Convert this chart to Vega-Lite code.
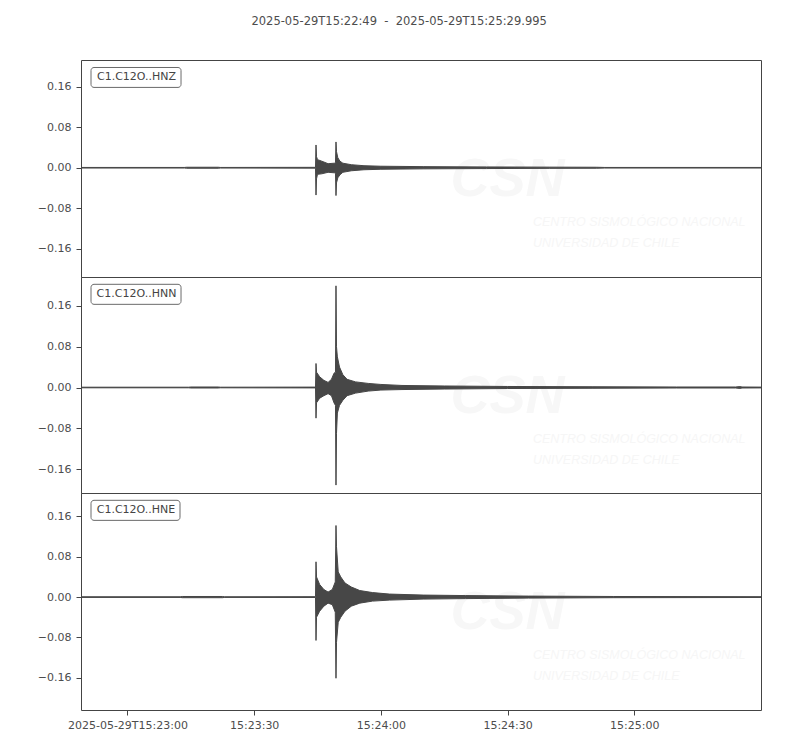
{
  "$schema": "https://vega.github.io/schema/vega-lite/v6.json",
  "background": "white",
  "padding": {"left": 36, "top": 16, "right": 40, "bottom": 5},
  "title": {"text": "2025-05-29T15:22:49\u00a0\u00a0-\u00a0\u00a02025-05-29T15:25:29.995", "font": "DejaVu Sans", "fontSize": 11.5, "fontWeight": "normal", "color": "#4d4d4d", "anchor": "middle", "frame": "bounds", "offset": 32},
  "spacing": 0,
  "bounds": "flush",
  "datasets": {
    "hnz": [
      {"t": "2025-05-29T15:22:49.000", "hi": 0.0006, "lo": -0.0006},
      {"t": "2025-05-29T15:23:13.500", "hi": 0.0006, "lo": -0.0006},
      {"t": "2025-05-29T15:23:14.000", "hi": 0.001, "lo": -0.001},
      {"t": "2025-05-29T15:23:21.500", "hi": 0.001, "lo": -0.001},
      {"t": "2025-05-29T15:23:22.000", "hi": 0.0006, "lo": -0.0006},
      {"t": "2025-05-29T15:23:44.400", "hi": 0.0008, "lo": -0.0008},
      {"t": "2025-05-29T15:23:44.520", "hi": 0.001, "lo": -0.001},
      {"t": "2025-05-29T15:23:44.640", "hi": 0.045, "lo": -0.054},
      {"t": "2025-05-29T15:23:44.760", "hi": 0.022, "lo": -0.022},
      {"t": "2025-05-29T15:23:45.000", "hi": 0.016, "lo": -0.013},
      {"t": "2025-05-29T15:23:46.000", "hi": 0.013, "lo": -0.012},
      {"t": "2025-05-29T15:23:47.500", "hi": 0.008, "lo": -0.009},
      {"t": "2025-05-29T15:23:49.000", "hi": 0.009, "lo": -0.01},
      {"t": "2025-05-29T15:23:49.250", "hi": 0.01, "lo": -0.011},
      {"t": "2025-05-29T15:23:49.370", "hi": 0.051, "lo": -0.055},
      {"t": "2025-05-29T15:23:49.490", "hi": 0.032, "lo": -0.03},
      {"t": "2025-05-29T15:23:49.800", "hi": 0.02, "lo": -0.02},
      {"t": "2025-05-29T15:23:50.300", "hi": 0.013, "lo": -0.014},
      {"t": "2025-05-29T15:23:51.000", "hi": 0.009, "lo": -0.009},
      {"t": "2025-05-29T15:23:53.000", "hi": 0.006, "lo": -0.006},
      {"t": "2025-05-29T15:23:56.000", "hi": 0.004, "lo": -0.004},
      {"t": "2025-05-29T15:24:00.000", "hi": 0.003, "lo": -0.003},
      {"t": "2025-05-29T15:24:10.000", "hi": 0.0022, "lo": -0.0022},
      {"t": "2025-05-29T15:24:25.000", "hi": 0.0016, "lo": -0.0016},
      {"t": "2025-05-29T15:24:40.000", "hi": 0.0012, "lo": -0.0012},
      {"t": "2025-05-29T15:24:51.000", "hi": 0.001, "lo": -0.001},
      {"t": "2025-05-29T15:24:53.000", "hi": 0.0006, "lo": -0.0006},
      {"t": "2025-05-29T15:25:29.995", "hi": 0.0006, "lo": -0.0006}
    ],
    "hnn": [
      {"t": "2025-05-29T15:22:49.000", "hi": 0.0006, "lo": -0.0006},
      {"t": "2025-05-29T15:23:14.500", "hi": 0.0006, "lo": -0.0006},
      {"t": "2025-05-29T15:23:15.000", "hi": 0.001, "lo": -0.001},
      {"t": "2025-05-29T15:23:21.500", "hi": 0.001, "lo": -0.001},
      {"t": "2025-05-29T15:23:22.000", "hi": 0.0006, "lo": -0.0006},
      {"t": "2025-05-29T15:23:44.400", "hi": 0.0008, "lo": -0.0008},
      {"t": "2025-05-29T15:23:44.520", "hi": 0.001, "lo": -0.001},
      {"t": "2025-05-29T15:23:44.640", "hi": 0.047, "lo": -0.06},
      {"t": "2025-05-29T15:23:44.760", "hi": 0.03, "lo": -0.03},
      {"t": "2025-05-29T15:23:45.500", "hi": 0.021, "lo": -0.021},
      {"t": "2025-05-29T15:23:46.500", "hi": 0.014, "lo": -0.016},
      {"t": "2025-05-29T15:23:47.500", "hi": 0.01, "lo": -0.012},
      {"t": "2025-05-29T15:23:48.300", "hi": 0.016, "lo": -0.016},
      {"t": "2025-05-29T15:23:48.900", "hi": 0.028, "lo": -0.03},
      {"t": "2025-05-29T15:23:49.250", "hi": 0.03, "lo": -0.035},
      {"t": "2025-05-29T15:23:49.370", "hi": 0.199, "lo": -0.191},
      {"t": "2025-05-29T15:23:49.490", "hi": 0.08, "lo": -0.09},
      {"t": "2025-05-29T15:23:49.700", "hi": 0.06, "lo": -0.05},
      {"t": "2025-05-29T15:23:50.200", "hi": 0.04, "lo": -0.035},
      {"t": "2025-05-29T15:23:51.000", "hi": 0.025, "lo": -0.025},
      {"t": "2025-05-29T15:23:52.000", "hi": 0.016, "lo": -0.016},
      {"t": "2025-05-29T15:23:54.000", "hi": 0.011, "lo": -0.011},
      {"t": "2025-05-29T15:23:57.000", "hi": 0.008, "lo": -0.007},
      {"t": "2025-05-29T15:24:00.000", "hi": 0.006, "lo": -0.005},
      {"t": "2025-05-29T15:24:05.000", "hi": 0.004, "lo": -0.004},
      {"t": "2025-05-29T15:24:15.000", "hi": 0.003, "lo": -0.003},
      {"t": "2025-05-29T15:24:30.000", "hi": 0.002, "lo": -0.002},
      {"t": "2025-05-29T15:24:50.000", "hi": 0.0015, "lo": -0.0015},
      {"t": "2025-05-29T15:25:10.000", "hi": 0.001, "lo": -0.001},
      {"t": "2025-05-29T15:25:24.000", "hi": 0.001, "lo": -0.001},
      {"t": "2025-05-29T15:25:25.000", "hi": 0.0018, "lo": -0.0018},
      {"t": "2025-05-29T15:25:25.500", "hi": 0.001, "lo": -0.001},
      {"t": "2025-05-29T15:25:29.995", "hi": 0.0008, "lo": -0.0008}
    ],
    "hne": [
      {"t": "2025-05-29T15:22:49.000", "hi": 0.0006, "lo": -0.0006},
      {"t": "2025-05-29T15:23:12.500", "hi": 0.0006, "lo": -0.0006},
      {"t": "2025-05-29T15:23:13.000", "hi": 0.0012, "lo": -0.0012},
      {"t": "2025-05-29T15:23:22.500", "hi": 0.0012, "lo": -0.0012},
      {"t": "2025-05-29T15:23:23.000", "hi": 0.0006, "lo": -0.0006},
      {"t": "2025-05-29T15:23:44.400", "hi": 0.0008, "lo": -0.0008},
      {"t": "2025-05-29T15:23:44.520", "hi": 0.001, "lo": -0.001},
      {"t": "2025-05-29T15:23:44.640", "hi": 0.07, "lo": -0.086},
      {"t": "2025-05-29T15:23:44.760", "hi": 0.04, "lo": -0.04},
      {"t": "2025-05-29T15:23:45.500", "hi": 0.025, "lo": -0.028},
      {"t": "2025-05-29T15:23:46.500", "hi": 0.015, "lo": -0.018},
      {"t": "2025-05-29T15:23:47.500", "hi": 0.01, "lo": -0.012},
      {"t": "2025-05-29T15:23:48.500", "hi": 0.015, "lo": -0.015},
      {"t": "2025-05-29T15:23:49.200", "hi": 0.03, "lo": -0.03},
      {"t": "2025-05-29T15:23:49.370", "hi": 0.142, "lo": -0.161},
      {"t": "2025-05-29T15:23:49.490", "hi": 0.1, "lo": -0.09},
      {"t": "2025-05-29T15:23:49.900", "hi": 0.05, "lo": -0.05},
      {"t": "2025-05-29T15:23:50.500", "hi": 0.04, "lo": -0.04},
      {"t": "2025-05-29T15:23:51.500", "hi": 0.028, "lo": -0.028},
      {"t": "2025-05-29T15:23:53.000", "hi": 0.02, "lo": -0.018},
      {"t": "2025-05-29T15:23:55.000", "hi": 0.013, "lo": -0.012},
      {"t": "2025-05-29T15:23:58.000", "hi": 0.009, "lo": -0.008},
      {"t": "2025-05-29T15:24:02.000", "hi": 0.006, "lo": -0.006},
      {"t": "2025-05-29T15:24:10.000", "hi": 0.004, "lo": -0.004},
      {"t": "2025-05-29T15:24:20.000", "hi": 0.003, "lo": -0.003},
      {"t": "2025-05-29T15:24:35.000", "hi": 0.002, "lo": -0.002},
      {"t": "2025-05-29T15:24:55.000", "hi": 0.0012, "lo": -0.0012},
      {"t": "2025-05-29T15:25:29.995", "hi": 0.0008, "lo": -0.0008}
    ],
    "labelbox": [
      {"ch": "HNZ", "t": "2025-05-29T15:22:51.370", "t1": "2025-05-29T15:23:12.680", "hi": 0.1982, "lo": 0.1588},
      {"ch": "HNN", "t": "2025-05-29T15:22:51.370", "t1": "2025-05-29T15:23:12.680", "hi": 0.202, "lo": 0.1628},
      {"ch": "HNE", "t": "2025-05-29T15:22:51.370", "t1": "2025-05-29T15:23:12.440", "hi": 0.192, "lo": 0.1522}
    ],
    "labeltext": [
      {"ch": "HNZ", "lab": "C1.C12O..HNZ", "t": "2025-05-29T15:23:02.140", "hi": 0.1785},
      {"ch": "HNN", "lab": "C1.C12O..HNN", "t": "2025-05-29T15:23:02.140", "hi": 0.1824},
      {"ch": "HNE", "lab": "C1.C12O..HNE", "t": "2025-05-29T15:23:02.020", "hi": 0.1721}
    ],
    "logo": [
      {"ch": "HNZ", "txt": "CSN", "t": "2025-05-29T15:24:30.000", "hi": -0.024},
      {"ch": "HNN", "txt": "CSN", "t": "2025-05-29T15:24:30.000", "hi": -0.019},
      {"ch": "HNE", "txt": "CSN", "t": "2025-05-29T15:24:30.000", "hi": -0.032}
    ],
    "logotext": [
      {"ch": "HNZ", "txt": "CENTRO SISMOLÓGICO NACIONAL", "t": "2025-05-29T15:24:36.000", "hi": -0.1065},
      {"ch": "HNZ", "txt": "UNIVERSIDAD DE CHILE", "t": "2025-05-29T15:24:36.000", "hi": -0.148},
      {"ch": "HNN", "txt": "CENTRO SISMOLÓGICO NACIONAL", "t": "2025-05-29T15:24:36.000", "hi": -0.101},
      {"ch": "HNN", "txt": "UNIVERSIDAD DE CHILE", "t": "2025-05-29T15:24:36.000", "hi": -0.1424},
      {"ch": "HNE", "txt": "CENTRO SISMOLÓGICO NACIONAL", "t": "2025-05-29T15:24:36.000", "hi": -0.1156},
      {"ch": "HNE", "txt": "UNIVERSIDAD DE CHILE", "t": "2025-05-29T15:24:36.000", "hi": -0.1573}
    ]
  },
  "vconcat": [
    {
      "width": 680, "height": 217,
      "encoding": {
        "x": {"field": "t", "type": "temporal", "axis": null, "scale": {"nice": false, "domain": [{"year": 2025, "month": 5, "date": 29, "hours": 15, "minutes": 22, "seconds": 49}, {"year": 2025, "month": 5, "date": 29, "hours": 15, "minutes": 25, "seconds": 29, "milliseconds": 995}]}},
        "y": {"field": "hi", "type": "quantitative", "scale": {"domain": [-0.216, 0.213], "nice": false, "zero": false}, "axis": {"values": [-0.16, -0.08, 0, 0.08, 0.16], "format": ".2f", "title": null, "grid": false, "domain": false, "tickSize": 5, "labelPadding": 5}}
      },
      "layer": [
        {
          "data": {"name": "logo"},
          "transform": [{"filter": "datum.ch === 'HNZ'"}],
          "mark": {"type": "text", "font": "Liberation Sans", "fontSize": 54, "fontWeight": "bold", "fontStyle": "italic", "color": "#f7f7f7", "align": "center", "baseline": "middle"},
          "encoding": {"text": {"field": "txt"}}
        },
        {
          "data": {"name": "logotext"},
          "transform": [{"filter": "datum.ch === 'HNZ'"}],
          "mark": {"type": "text", "font": "Liberation Sans", "fontSize": 12.5, "fontStyle": "italic", "color": "#f6f6f6", "align": "left", "baseline": "middle"},
          "encoding": {"text": {"field": "txt"}}
        },
        {
          "data": {"name": "hnz"},
          "mark": {"type": "area", "color": "#474747", "stroke": "#474747", "strokeWidth": 1, "clip": true},
          "encoding": {"y2": {"field": "lo"}}
        },
        {
          "data": {"name": "labelbox"},
          "transform": [{"filter": "datum.ch === 'HNZ'"}],
          "mark": {"type": "rect", "fill": "white", "stroke": "#6a6a6a", "strokeWidth": 1, "cornerRadius": 3},
          "encoding": {"x2": {"field": "t1"}, "y2": {"field": "lo"}}
        },
        {
          "data": {"name": "labeltext"},
          "transform": [{"filter": "datum.ch === 'HNZ'"}],
          "mark": {"type": "text", "font": "DejaVu Sans", "fontSize": 11, "color": "#444444", "align": "center", "baseline": "middle"},
          "encoding": {"text": {"field": "lab"}}
        }
      ]
    },
    {
      "width": 680, "height": 216,
      "encoding": {
        "x": {"field": "t", "type": "temporal", "axis": null, "scale": {"nice": false, "domain": [{"year": 2025, "month": 5, "date": 29, "hours": 15, "minutes": 22, "seconds": 49}, {"year": 2025, "month": 5, "date": 29, "hours": 15, "minutes": 25, "seconds": 29, "milliseconds": 995}]}},
        "y": {"field": "hi", "type": "quantitative", "scale": {"domain": [-0.2065, 0.2163], "nice": false, "zero": false}, "axis": {"values": [-0.16, -0.08, 0, 0.08, 0.16], "format": ".2f", "title": null, "grid": false, "domain": false, "tickSize": 5, "labelPadding": 5}}
      },
      "layer": [
        {
          "data": {"name": "logo"},
          "transform": [{"filter": "datum.ch === 'HNN'"}],
          "mark": {"type": "text", "font": "Liberation Sans", "fontSize": 54, "fontWeight": "bold", "fontStyle": "italic", "color": "#f7f7f7", "align": "center", "baseline": "middle"},
          "encoding": {"text": {"field": "txt"}}
        },
        {
          "data": {"name": "logotext"},
          "transform": [{"filter": "datum.ch === 'HNN'"}],
          "mark": {"type": "text", "font": "Liberation Sans", "fontSize": 12.5, "fontStyle": "italic", "color": "#f6f6f6", "align": "left", "baseline": "middle"},
          "encoding": {"text": {"field": "txt"}}
        },
        {
          "data": {"name": "hnn"},
          "mark": {"type": "area", "color": "#474747", "stroke": "#474747", "strokeWidth": 1, "clip": true},
          "encoding": {"y2": {"field": "lo"}}
        },
        {
          "data": {"name": "labelbox"},
          "transform": [{"filter": "datum.ch === 'HNN'"}],
          "mark": {"type": "rect", "fill": "white", "stroke": "#6a6a6a", "strokeWidth": 1, "cornerRadius": 3},
          "encoding": {"x2": {"field": "t1"}, "y2": {"field": "lo"}}
        },
        {
          "data": {"name": "labeltext"},
          "transform": [{"filter": "datum.ch === 'HNN'"}],
          "mark": {"type": "text", "font": "DejaVu Sans", "fontSize": 11, "color": "#444444", "align": "center", "baseline": "middle"},
          "encoding": {"text": {"field": "lab"}}
        }
      ]
    },
    {
      "width": 680, "height": 217,
      "encoding": {
        "x": {"field": "t", "type": "temporal", "scale": {"nice": false, "domain": [{"year": 2025, "month": 5, "date": 29, "hours": 15, "minutes": 22, "seconds": 49}, {"year": 2025, "month": 5, "date": 29, "hours": 15, "minutes": 25, "seconds": 29, "milliseconds": 995}]},
          "axis": {"values": [
            {"year": 2025, "month": 5, "date": 29, "hours": 15, "minutes": 23, "seconds": 0},
            {"year": 2025, "month": 5, "date": 29, "hours": 15, "minutes": 23, "seconds": 30},
            {"year": 2025, "month": 5, "date": 29, "hours": 15, "minutes": 24, "seconds": 0},
            {"year": 2025, "month": 5, "date": 29, "hours": 15, "minutes": 24, "seconds": 30},
            {"year": 2025, "month": 5, "date": 29, "hours": 15, "minutes": 25, "seconds": 0}
          ], "labelExpr": "timeFormat(datum.value, '%H:%M:%S') == '15:23:00' ? timeFormat(datum.value, '%Y-%m-%dT%H:%M:%S') : timeFormat(datum.value, '%H:%M:%S')", "title": null, "grid": false, "domain": false, "tickSize": 5, "labelPadding": 4, "labelFlush": false, "labelOverlap": false}},
        "y": {"field": "hi", "type": "quantitative", "scale": {"domain": [-0.224, 0.2065], "nice": false, "zero": false}, "axis": {"values": [-0.16, -0.08, 0, 0.08, 0.16], "format": ".2f", "title": null, "grid": false, "domain": false, "tickSize": 5, "labelPadding": 5}}
      },
      "layer": [
        {
          "data": {"name": "logo"},
          "transform": [{"filter": "datum.ch === 'HNE'"}],
          "mark": {"type": "text", "font": "Liberation Sans", "fontSize": 54, "fontWeight": "bold", "fontStyle": "italic", "color": "#f7f7f7", "align": "center", "baseline": "middle"},
          "encoding": {"text": {"field": "txt"}}
        },
        {
          "data": {"name": "logotext"},
          "transform": [{"filter": "datum.ch === 'HNE'"}],
          "mark": {"type": "text", "font": "Liberation Sans", "fontSize": 12.5, "fontStyle": "italic", "color": "#f6f6f6", "align": "left", "baseline": "middle"},
          "encoding": {"text": {"field": "txt"}}
        },
        {
          "data": {"name": "hne"},
          "mark": {"type": "area", "color": "#474747", "stroke": "#474747", "strokeWidth": 1, "clip": true},
          "encoding": {"y2": {"field": "lo"}}
        },
        {
          "data": {"name": "labelbox"},
          "transform": [{"filter": "datum.ch === 'HNE'"}],
          "mark": {"type": "rect", "fill": "white", "stroke": "#6a6a6a", "strokeWidth": 1, "cornerRadius": 3},
          "encoding": {"x2": {"field": "t1"}, "y2": {"field": "lo"}}
        },
        {
          "data": {"name": "labeltext"},
          "transform": [{"filter": "datum.ch === 'HNE'"}],
          "mark": {"type": "text", "font": "DejaVu Sans", "fontSize": 11, "color": "#444444", "align": "center", "baseline": "middle"},
          "encoding": {"text": {"field": "lab"}}
        }
      ]
    }
  ],
  "config": {
    "view": {"stroke": "#444444", "strokeWidth": 1},
    "axis": {"labelFont": "DejaVu Sans", "labelFontSize": 11, "labelColor": "#4d4d4d", "tickColor": "#444444", "domainColor": "#444444"}
  }
}
